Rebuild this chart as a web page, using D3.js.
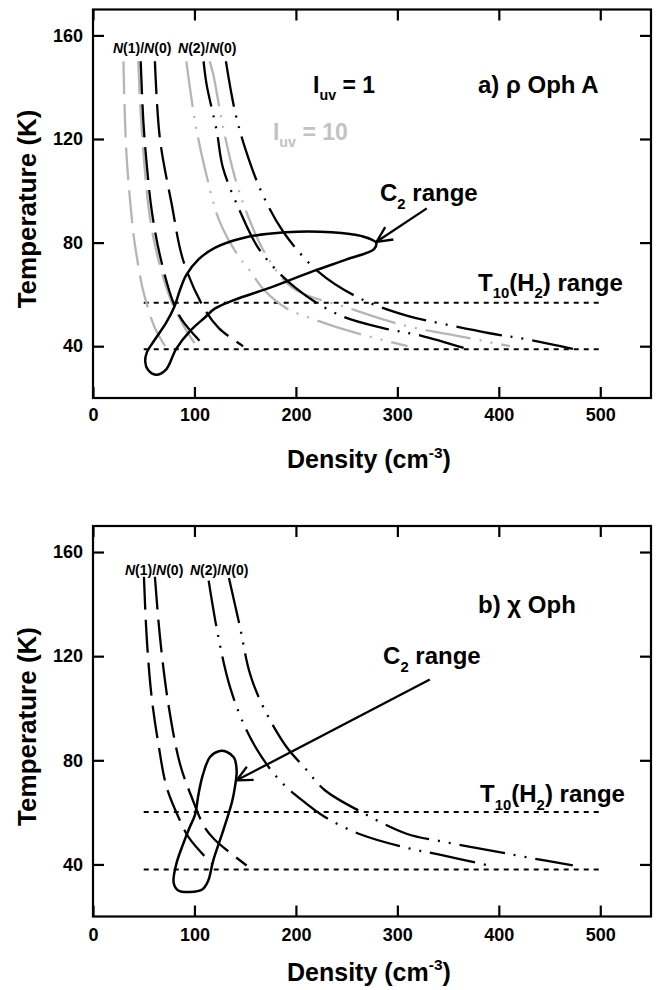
<!DOCTYPE html>
<html>
<head>
<meta charset="utf-8">
<script src="https://d3js.org/d3.v7.min.js"></script>
<style>
  body { margin: 0; background: #fff; }
  text { font-family: "Liberation Sans", Arial, Helvetica, sans-serif; font-weight: bold; }
</style>
</head>
<body>
<svg width="662" height="990"></svg>
<script>
// ---- data (density cm^-3, temperature K) ----
var densityTicks = [0, 100, 200, 300, 400, 500];
var tempTicks = [40, 80, 120, 160];

// panel a) rho Oph A, I_uv = 1 (black)
var rhoN1a = [[47,150],[49.6,127],[53,110],[58,92],[66,75],[79,57],[88,50],[110,40]];
var rhoN1b = [[61,150],[66,120],[77.5,95],[89,73],[109,55],[124,47],[148,40]];
var rhoN2a = [[109,150],[112,141],[122,123],[128,109],[145,92],[164.5,77],[200,62.4],[243,52],[286,47],[324,44],[368,39]];
var rhoN2b = [[131,150],[140,130.5],[150,116.4],[166,99.6],[187.5,84.2],[222,68.8],[263,58.5],[310,51.7],[345,48.6],[391,45],[427,42.7],[473,39]];
// panel a) I_uv = 10 (grey)
var rhoN1aUv10 = [[30,150],[33,114],[40,83],[43,75],[48.5,63],[54,55],[61,47],[71,40]];
var rhoN1bUv10 = [[44.6,150],[47.5,127],[56,90],[66,71],[77.5,57],[82.5,53],[92,46],[103,39.5]];
var rhoN2aUv10 = [[92,150],[100.5,127],[110,109],[125,88],[143,75],[155,69],[168,62],[191,54.6],[224,49.5],[255,45.6],[310,40]];
var rhoN2bUv10 = [[115,150],[118.5,145],[128,125],[140,105],[153,90],[171,75],[197,62.4],[253,54.6],[309,47.8],[355,44.3],[411,40]];
// panel a) C2 range contour
var rhoC2 = [[62,29],[54,31],[51.5,34],[53,37.5],[60,42],[72,49],[80,55],[86,62],[92,67.5],[104,73.5],[120,78],[150,82],[190,84],[235,84],[265,82.5],[279,80],[277,77.5],[250,73.5],[217,69],[174,62.5],[140,58],[120,54.5],[110,51],[96,46],[82,39],[72,31]];
var rhoT10 = [56.8, 38.8];
var rhoT10Density = [50, 500];

// panel b) chi Oph
var chiN1a = [[50.2,150.5],[52.9,127.4],[57.8,104.3],[64.4,86.4],[72.6,69.7],[85.7,56.9],[95,50],[117,40.3]];
var chiN1b = [[61,150.5],[66,127.4],[74.2,101.8],[85.7,78.7],[97.2,65.9],[110,54.3],[120,49.5],[151.4,39.6]];
var chiN2a = [[114,149],[123.5,127.4],[135,108.2],[149.8,92.8],[166.2,81.3],[184,72.3],[204,65.3],[228.6,58.2],[264.7,51.4],[309,46.4],[345,43.5],[389.5,39.6]];
var chiN2b = [[134,150],[144.8,131.3],[154.7,113.3],[167.8,100.5],[190.8,85.1],[209,77],[228.6,68.5],[264.7,60.1],[309,51.8],[346.8,48.6],[391,45.4],[427,42.8],[473,39.6]];
var chiC2 = [[95.6,29.4],[84,30],[79.5,33],[82,40],[89,48],[95,54],[100.5,59],[104,67],[108,74],[115.3,81.3],[124,83.5],[132,83.2],[139,81],[141.6,76],[140,70],[137,64],[128.4,53.1],[118.5,41.5],[113.6,33.8],[108,30.5]];
var chiT10 = [60.1, 38.1];
var chiT10Density = [50, 500];

// ---- styles ----
var grey = "#b5b5b5";
var dashN1 = "33,10";
var dashN2 = "46,9,2,9,2,9";
var lw = 2.3;

var svg = d3.select("svg");

function rich(sel, parts, size) {
  var shift = 0;
  parts.forEach(function(p) {
    var t = sel.append("tspan").text(p.t);
    var target = p.sub ? size * 0.32 : (p.sup ? -size * 0.42 : 0);
    t.attr("dy", target - shift);
    shift = target;
    if (p.sub || p.sup) t.attr("font-size", size * 0.62);
    if (p.it) t.attr("font-style", "italic");
  });
}

function arrow(g, from, to, x, y) {
  var x0 = x(from[0]), y0 = y(from[1]), x1 = x(to[0]), y1 = y(to[1]);
  g.append("line").attr("x1", x0).attr("y1", y0).attr("x2", x1).attr("y2", y1)
    .attr("stroke", "#000").attr("stroke-width", lw);
  var a = Math.atan2(y0 - y1, x0 - x1);
  [-0.45, 0.45].forEach(function(da) {
    g.append("line").attr("x1", x1).attr("y1", y1)
      .attr("x2", x1 + 17 * Math.cos(a + da)).attr("y2", y1 + 17 * Math.sin(a + da))
      .attr("stroke", "#000").attr("stroke-width", lw);
  });
}

function drawPanel(p) {
  var x = d3.scaleLinear().domain([0, 550]).range([93, 651]);
  var y = d3.scaleLinear().domain([20, 170]).range([p.bottom, p.top]);
  var g = svg.append("g");

  var line = d3.line().x(function(d) { return x(d[0]); }).y(function(d) { return y(d[1]); })
    .curve(d3.curveCatmullRom.alpha(0.5));
  var closed = d3.line().x(function(d) { return x(d[0]); }).y(function(d) { return y(d[1]); })
    .curve(d3.curveCatmullRomClosed.alpha(0.5));

  // T10(H2) range
  p.t10.forEach(function(t) {
    g.append("line").attr("x1", x(p.t10Density[0])).attr("x2", x(p.t10Density[1]))
      .attr("y1", y(t)).attr("y2", y(t))
      .attr("stroke", "#000").attr("stroke-width", 2).attr("stroke-dasharray", "5,5");
  });

  p.curves.forEach(function(c) {
    g.append("path").attr("d", line(c.pts)).attr("fill", "none")
      .attr("stroke", c.grey ? grey : "#000").attr("stroke-width", lw)
      .attr("stroke-dasharray", c.n2 ? dashN2 : dashN1);
  });

  g.append("path").attr("d", closed(p.loop)).attr("fill", "none")
    .attr("stroke", "#000").attr("stroke-width", 2.5);

  arrow(g, p.arrow[0], p.arrow[1], x, y);

  // frame and axes (ticks inside on all sides)
  g.append("rect").attr("x", x(0)).attr("y", y(170))
    .attr("width", x(550) - x(0)).attr("height", y(20) - y(170))
    .attr("fill", "none").attr("stroke", "#000").attr("stroke-width", 2.2);

  var ax = [
    [d3.axisBottom(x).tickValues(densityTicks).tickPadding(p.tickPad), "translate(0," + y(20) + ")"],
    [d3.axisTop(x).tickValues(densityTicks).tickFormat(""), "translate(0," + y(170) + ")"],
    [d3.axisLeft(y).tickValues(tempTicks).tickPadding(10), "translate(" + x(0) + ",0)"],
    [d3.axisRight(y).tickValues(tempTicks).tickFormat(""), "translate(" + x(550) + ",0)"]
  ];
  ax.forEach(function(a) {
    var s = g.append("g").attr("transform", a[1]).call(a[0].tickSizeInner(-11).tickSizeOuter(0));
    s.select(".domain").remove();
    s.selectAll(".tick line").attr("stroke-width", 2.2);
    s.selectAll("text").attr("font-size", 18).attr("fill", "#000")
      .style("font-family", "'Liberation Sans', Arial, sans-serif").style("font-weight", "bold");
  });

  // axis titles
  var ty = g.append("text").attr("text-anchor", "middle").attr("font-size", 26)
    .attr("transform", "translate(36," + y(93) + ") rotate(-90)");
  rich(ty, [{t: "Temperature (K)"}], 26);
  var tx = g.append("text").attr("text-anchor", "middle").attr("font-size", 25)
    .attr("x", x(272)).attr("y", y(20) + p.titleOff);
  rich(tx, [{t: "Density (cm"}, {t: "-3", sup: true}, {t: ")"}], 25);

  // annotations
  p.labels.forEach(function(l) {
    var t = g.append("text").attr("x", x(l.at[0])).attr("y", y(l.at[1]))
      .attr("font-size", l.size).attr("fill", l.grey ? "#c2c2c2" : "#000");
    rich(t, l.parts, l.size);
  });
}

var ratio1 = [{t: "N", it: true}, {t: "(1)/"}, {t: "N", it: true}, {t: "(0)"}];
var ratio2 = [{t: "N", it: true}, {t: "(2)/"}, {t: "N", it: true}, {t: "(0)"}];
var c2 = [{t: "C"}, {t: "2", sub: true}, {t: " range"}];
var t10 = [{t: "T"}, {t: "10", sub: true}, {t: "(H"}, {t: "2", sub: true}, {t: ") range"}];

drawPanel({
  top: 9.5, bottom: 398, tickPad: 10, titleOff: 70,
  curves: [
    {pts: rhoN1aUv10, grey: true}, {pts: rhoN1bUv10, grey: true},
    {pts: rhoN2aUv10, grey: true, n2: true}, {pts: rhoN2bUv10, grey: true, n2: true},
    {pts: rhoN1a}, {pts: rhoN1b}, {pts: rhoN2a, n2: true}, {pts: rhoN2b, n2: true}
  ],
  loop: rhoC2, t10: rhoT10, t10Density: rhoT10Density,
  arrow: [[329, 93.2], [279.5, 80.3]],
  labels: [
    {at: [19.7, 153.2], size: 14, parts: ratio1},
    {at: [83.8, 153.2], size: 14, parts: ratio2},
    {at: [216.9, 137.8], size: 23, parts: [{t: "I"}, {t: "uv", sub: true}, {t: " = 1"}]},
    {at: [177.4, 119.6], size: 23, grey: true, parts: [{t: "I"}, {t: "uv", sub: true}, {t: " = 10"}]},
    {at: [379.5, 137.8], size: 24, parts: [{t: "a) ρ Oph A"}]},
    {at: [282.9, 96], size: 24, parts: c2},
    {at: [379.5, 61.5], size: 24, parts: t10}
  ]
});

drawPanel({
  top: 526, bottom: 916.5, tickPad: 12, titleOff: 64,
  curves: [
    {pts: chiN1a}, {pts: chiN1b}, {pts: chiN2a, n2: true}, {pts: chiN2b, n2: true}
  ],
  loop: chiC2, t10: chiT10, t10Density: chiT10Density,
  arrow: [[332, 111], [141.6, 72.3]],
  labels: [
    {at: [31.5, 151.2], size: 14, parts: ratio1},
    {at: [95.6, 151.2], size: 14, parts: ratio2},
    {at: [379.5, 136.5], size: 24, parts: [{t: "b) χ Oph"}]},
    {at: [285.9, 117], size: 24, parts: c2},
    {at: [381.5, 64], size: 24, parts: t10}
  ]
});
</script>
</body>
</html>
